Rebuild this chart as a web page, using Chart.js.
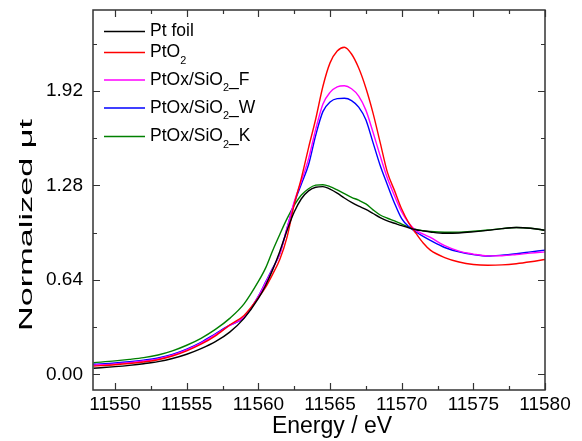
<!DOCTYPE html>
<html>
<head>
<meta charset="utf-8">
<script src="https://cdn.jsdelivr.net/npm/chart.js@4"></script>
<style>
html,body{margin:0;padding:0;background:#fff;}
#wrap{width:582px;height:441px;position:relative;}
</style>
</head>
<body>
<div id="wrap"><canvas id="c"></canvas></div>
<script>
// ---- data ----
const energies = [11548.5,11550,11551,11552,11553,11554,11555,11556,11557,11558,11559,11560,11560.5,11561,11561.5,11562,11562.5,11563,11563.5,11564,11564.5,11565,11565.5,11566,11566.5,11567,11567.5,11568,11568.5,11569,11569.5,11570,11570.5,11571,11571.5,11572,11573,11574,11575,11576,11577,11578,11579,11580];
const ptFoil = [0.042,0.053,0.062,0.073,0.087,0.108,0.137,0.175,0.222,0.287,0.380,0.515,0.603,0.710,0.835,0.975,1.100,1.190,1.243,1.268,1.272,1.255,1.228,1.195,1.165,1.140,1.118,1.090,1.062,1.040,1.024,1.008,0.993,0.980,0.972,0.965,0.956,0.958,0.966,0.976,0.988,0.995,0.990,0.977];
const ptO2 = [0.057,0.066,0.074,0.085,0.100,0.125,0.160,0.205,0.262,0.335,0.400,0.520,0.590,0.680,0.780,0.930,1.150,1.330,1.535,1.730,1.950,2.110,2.190,2.216,2.170,2.075,1.940,1.770,1.570,1.370,1.245,1.120,1.025,0.955,0.890,0.842,0.792,0.762,0.745,0.740,0.742,0.750,0.763,0.779];
const ptOxF = [0.063,0.072,0.080,0.091,0.106,0.130,0.166,0.212,0.270,0.332,0.390,0.528,0.620,0.715,0.820,0.990,1.170,1.310,1.460,1.660,1.830,1.910,1.948,1.955,1.935,1.885,1.790,1.640,1.480,1.330,1.210,1.100,1.025,0.975,0.950,0.928,0.872,0.835,0.815,0.803,0.804,0.812,0.822,0.830];
const ptOxW = [0.069,0.078,0.086,0.097,0.112,0.136,0.172,0.218,0.276,0.334,0.385,0.530,0.625,0.720,0.820,0.990,1.160,1.290,1.420,1.620,1.780,1.845,1.868,1.870,1.855,1.810,1.725,1.570,1.415,1.285,1.160,1.055,1.000,0.965,0.935,0.908,0.860,0.830,0.812,0.802,0.808,0.818,0.830,0.842];
const ptOxK = [0.080,0.092,0.102,0.114,0.132,0.160,0.198,0.245,0.305,0.380,0.478,0.630,0.720,0.840,0.950,1.055,1.145,1.215,1.258,1.282,1.285,1.272,1.250,1.225,1.200,1.180,1.155,1.115,1.080,1.058,1.040,1.018,0.998,0.982,0.974,0.968,0.963,0.964,0.970,0.978,0.988,0.995,0.990,0.977];
const seriesLabels = ['Pt foil','PtO₂','PtOx/SiO₂_F','PtOx/SiO₂_W','PtOx/SiO₂_K'];
const seriesColors = ['#000000','#ff0000','#ff00ff','#0000ff','#008000'];
const xTicks = [11550,11555,11560,11565,11570,11575,11580];
const xMinorTicks = [11552.5,11557.5,11562.5,11567.5,11572.5,11577.5];
const yTicks = [0.00,0.64,1.28,1.92];
const yMinorTicks = [0.32,0.96,1.60,2.24];
const xTitle = 'Energy / eV';
const yTitle = 'Normalized μt';

const allSeries = [ptFoil, ptO2, ptOxF, ptOxW, ptOxK];
const datasets = allSeries.map((arr,i)=>({
  label: seriesLabels[i],
  data: energies.map((e,j)=>({x:e,y:arr[j]})),
  borderColor: seriesColors[i],
  backgroundColor: seriesColors[i],
  borderWidth: 1.4,
  pointRadius: 0,
  fill: false,
  cubicInterpolationMode: 'monotone'
}));

const FONT = "'Liberation Sans', Arial, sans-serif";

function drawSubText(ctx, text, x, y, size){
  const parts = text.split('₂');
  let cx = x;
  for (let i=0;i<parts.length;i++){
    ctx.font = size + 'px ' + FONT;
    ctx.fillText(parts[i], cx, y);
    cx += ctx.measureText(parts[i]).width;
    if (i < parts.length-1){
      ctx.font = (size*0.62) + 'px ' + FONT;
      ctx.fillText('2', cx, y + size*0.48);
      cx += ctx.measureText('2').width;
    }
  }
}

const framePlugin = {
  id: 'frame',
  afterDatasetsDraw(chart){
    const {ctx, chartArea:a, scales} = chart;
    ctx.save();
    ctx.strokeStyle = '#333';
    ctx.lineWidth = 1.5;
    ctx.strokeRect(a.left, a.top, a.right-a.left, a.bottom-a.top);
    ctx.lineWidth = 1.2;
    ctx.beginPath();
    const xs = scales.x, ys = scales.y;
    const tick = (vals, len) => {
      vals.forEach(v=>{
        const px = Math.round(xs.getPixelForValue(v))+0.5;
        ctx.moveTo(px, a.bottom); ctx.lineTo(px, a.bottom-len);
        ctx.moveTo(px, a.top); ctx.lineTo(px, a.top+len);
      });
    };
    const ytick = (vals, len) => {
      vals.forEach(v=>{
        const py = Math.round(ys.getPixelForValue(v))+0.5;
        ctx.moveTo(a.left, py); ctx.lineTo(a.left+len, py);
        ctx.moveTo(a.right, py); ctx.lineTo(a.right-len, py);
      });
    };
    tick(xTicks, 7); tick(xMinorTicks, 4);
    ytick(yTicks, 7); ytick(yMinorTicks, 4);
    ctx.stroke();

    // legend
    const rows = [31.5, 52.5, 80, 108, 136.5];
    ctx.textBaseline = 'middle';
    ctx.textAlign = 'left';
    chart.data.datasets.forEach((ds,i)=>{
      const y = rows[i];
      ctx.strokeStyle = ds.borderColor;
      ctx.lineWidth = 1.5;
      ctx.beginPath();
      ctx.moveTo(104, y); ctx.lineTo(145, y);
      ctx.stroke();
      ctx.fillStyle = '#000';
      drawSubText(ctx, ds.label, 150, y, 17.5);
    });

    // axis titles
    ctx.fillStyle = '#000';
    ctx.textAlign = 'center';
    ctx.textBaseline = 'alphabetic';
    ctx.font = '23px ' + FONT;
    ctx.fillText(xTitle, 332, 433);
    ctx.save();
    ctx.translate(32, 225);
    ctx.rotate(-Math.PI/2);
    ctx.font = '19px ' + FONT;
    const w = ctx.measureText(yTitle).width;
    ctx.scale(212 / w, 1);
    ctx.fillText(yTitle, 0, 0);
    ctx.restore();
    ctx.restore();
  }
};

new Chart(document.getElementById('c'), {
  type: 'line',
  data: { datasets },
  options: {
    responsive: true,
    maintainAspectRatio: false,
    animation: false,
    layout: { padding: { top: 10, right: 37, left: 0, bottom: 0 } },
    plugins: { legend: { display: false }, tooltip: { enabled: false } },
    scales: {
      x: {
        type: 'linear',
        min: 11548.46, max: 11580,
        grid: { display: false, drawTicks: false },
        border: { display: false },
        afterBuildTicks: s => { s.ticks = xTicks.map(v=>({value:v})); },
        afterFit: s => { s.height = 51; s.paddingLeft = 0; s.paddingRight = 0; },
        ticks: { color: '#000', padding: 3, maxRotation: 0, autoSkip: false,
          font: { family: FONT, size: 19 },
          callback: v => String(v) }
      },
      y: {
        type: 'linear',
        min: -0.105, max: 2.468,
        grid: { display: false, drawTicks: false },
        border: { display: false },
        afterBuildTicks: s => { s.ticks = yTicks.map(v=>({value:v})); },
        afterFit: s => { s.width = 93; s.paddingTop = 0; s.paddingBottom = 0; },
        ticks: { color: '#000', padding: 10, autoSkip: false,
          font: { family: FONT, size: 19 },
          callback: v => Number(v).toFixed(2) }
      }
    }
  },
  plugins: [framePlugin]
});
</script>
</body>
</html>
